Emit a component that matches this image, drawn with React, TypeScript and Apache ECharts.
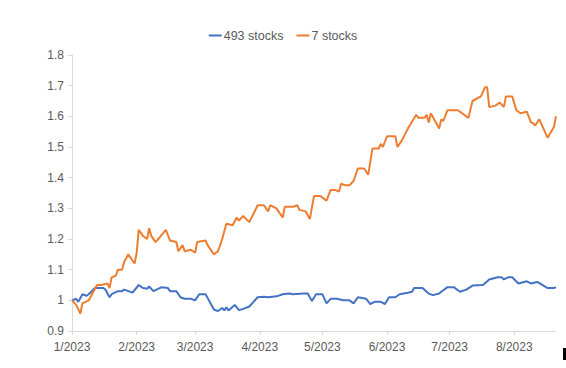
import React, { useEffect, useRef } from "react";
import * as echarts from "echarts";

const seriesNames = ["493 stocks", "7 stocks"];
const startYear = 2023;
const lastDay = 232;

// days since 1 Jan 2023
const blueDays = [0, 2, 3, 5, 7, 8, 11, 15, 16, 18, 19, 22, 24, 25, 29, 32, 34, 36, 37, 39, 43, 46, 47, 50, 52, 54, 57, 59, 61, 64, 65, 68, 70, 72, 73, 74, 75, 78, 80, 82, 85, 87, 89, 92, 94, 98, 101, 104, 106, 111, 113, 115, 117, 120, 122, 124, 127, 130, 133, 135, 137, 141, 143, 145, 148, 150, 152, 155, 157, 161, 163, 164, 168, 171, 173, 176, 177, 180, 183, 186, 189, 192, 197, 200, 204, 206, 207, 209, 211, 214, 218, 220, 223, 228, 231, 232];
const blueVals = [1.0, 1.005, 0.995, 1.02, 1.015, 1.02, 1.04, 1.04, 1.035, 1.01, 1.02, 1.03, 1.03, 1.035, 1.025, 1.05, 1.04, 1.038, 1.045, 1.03, 1.043, 1.04, 1.03, 1.03, 1.01, 1.005, 1.005, 1.0, 1.02, 1.02, 1.008, 0.97, 0.965, 0.975, 0.967, 0.977, 0.967, 0.985, 0.968, 0.972, 0.98, 0.995, 1.01, 1.012, 1.01, 1.013, 1.02, 1.022, 1.02, 1.022, 1.022, 0.998, 1.02, 1.02, 0.99, 1.005, 1.005, 1.0, 1.0, 0.99, 1.01, 1.005, 0.988, 0.995, 0.995, 0.988, 1.01, 1.01, 1.02, 1.025, 1.028, 1.04, 1.04, 1.022, 1.017, 1.022, 1.028, 1.043, 1.043, 1.028, 1.035, 1.048, 1.05, 1.068, 1.075, 1.075, 1.068, 1.075, 1.075, 1.055, 1.062, 1.055, 1.06, 1.04, 1.04, 1.043];

const orangeDays = [0, 2, 4, 5, 8, 10, 12, 14, 17, 18, 19, 21, 22, 24, 25, 27, 29, 30, 31, 32, 34, 36, 37, 38, 40, 42, 45, 47, 50, 51, 53, 54, 57, 59, 60, 64, 65, 68, 70, 72, 74, 77, 79, 80, 82, 85, 89, 92, 94, 95, 98, 101, 102, 106, 108, 109, 112, 114, 116, 118, 119, 122, 124, 126, 128, 129, 131, 133, 135, 137, 140, 142, 144, 147, 148, 149, 151, 155, 156, 158, 161, 165, 166, 169, 170, 171, 172, 176, 177, 178, 180, 185, 190, 192, 196, 198, 199, 200, 203, 205, 207, 208, 211, 213, 215, 218, 220, 221, 222, 224, 226, 228, 231, 232];
const orangeVals = [1.0, 0.985, 0.957, 0.99, 1.0, 1.025, 1.05, 1.05, 1.055, 1.04, 1.075, 1.08, 1.1, 1.1, 1.125, 1.15, 1.13, 1.12, 1.155, 1.23, 1.21, 1.2, 1.235, 1.21, 1.19, 1.205, 1.23, 1.195, 1.19, 1.16, 1.18, 1.16, 1.165, 1.155, 1.19, 1.195, 1.18, 1.15, 1.16, 1.2, 1.25, 1.245, 1.27, 1.26, 1.275, 1.255, 1.31, 1.31, 1.29, 1.31, 1.3, 1.27, 1.305, 1.305, 1.31, 1.295, 1.29, 1.265, 1.34, 1.34, 1.34, 1.325, 1.36, 1.36, 1.355, 1.38, 1.375, 1.375, 1.39, 1.43, 1.43, 1.41, 1.495, 1.495, 1.51, 1.5, 1.535, 1.535, 1.5, 1.52, 1.56, 1.605, 1.595, 1.595, 1.605, 1.58, 1.61, 1.56, 1.59, 1.585, 1.62, 1.62, 1.595, 1.65, 1.665, 1.695, 1.695, 1.63, 1.635, 1.645, 1.63, 1.665, 1.665, 1.62, 1.61, 1.615, 1.58, 1.578, 1.57, 1.59, 1.56, 1.53, 1.565, 1.6];

const yMin = 0.9;
const yMax = 1.8;
const yStep = 0.1;

const DAY = 86400000;
const base = Date.UTC(startYear, 0, 1);
const toPoints = (days: number[], vals: number[]) => days.map((d, i) => [base + d * DAY, vals[i]]);

export default function App() {
  const ref = useRef<HTMLDivElement>(null);
  useEffect(() => {
    if (!ref.current) return;
    const chart = echarts.init(ref.current, null, { renderer: "svg" });
    const font = "'Liberation Sans', Arial, sans-serif";
    chart.setOption({
      animation: false,
      useUTC: true,
      textStyle: { fontFamily: font },
      legend: {
        top: 24,
        left: "center",
        icon: "rect",
        itemWidth: 13,
        itemHeight: 2,
        itemGap: 13,
        textStyle: { color: "#595959", fontSize: 12.5, fontFamily: font, padding: [0, 0, 0, -3] },
        data: seriesNames,
      },
      grid: { left: 72, right: 10, top: 55, bottom: 37, containLabel: false },
      xAxis: {
        type: "time",
        min: base,
        max: base + lastDay * DAY,
        splitNumber: 8,
        axisLine: { lineStyle: { color: "#d9d9d9", width: 1 } },
        axisTick: { show: true, length: 4, lineStyle: { color: "#d9d9d9" } },
        splitLine: { show: false },
        axisLabel: {
          color: "#595959",
          fontSize: 12,
          fontFamily: font,
          margin: 10,
          hideOverlap: false,
          formatter: (v: number) => {
            const d = new Date(v);
            return `${d.getUTCMonth() + 1}/${d.getUTCFullYear()}`;
          },
        },
      },
      yAxis: {
        type: "value",
        min: yMin,
        max: yMax,
        interval: yStep,
        axisLine: { show: true, lineStyle: { color: "#d9d9d9", width: 1 } },
        axisTick: { show: true, length: 4, lineStyle: { color: "#d9d9d9" } },
        splitLine: { show: false },
        axisLabel: {
          color: "#595959",
          fontSize: 12,
          fontFamily: font,
          margin: 8,
          formatter: (v: number) => String(+v.toFixed(1)),
        },
      },
      graphic: [
        { type: "rect", shape: { x: 563, y: 348, width: 3, height: 12 }, style: { fill: "#000" } },
      ],
      series: [
        {
          name: seriesNames[0],
          type: "line",
          data: toPoints(blueDays, blueVals),
          showSymbol: false,
          symbol: "none",
          lineStyle: { color: "#4472C4", width: 2 },
          itemStyle: { color: "#4472C4" },
        },
        {
          name: seriesNames[1],
          type: "line",
          data: toPoints(orangeDays, orangeVals),
          showSymbol: false,
          symbol: "none",
          lineStyle: { color: "#ED7D31", width: 2 },
          itemStyle: { color: "#ED7D31" },
        },
      ],
    });
    return () => chart.dispose();
  }, []);
  return <div ref={ref} style={{ width: 566, height: 368, position: "absolute", left: 0, top: 0 }} />;
}
